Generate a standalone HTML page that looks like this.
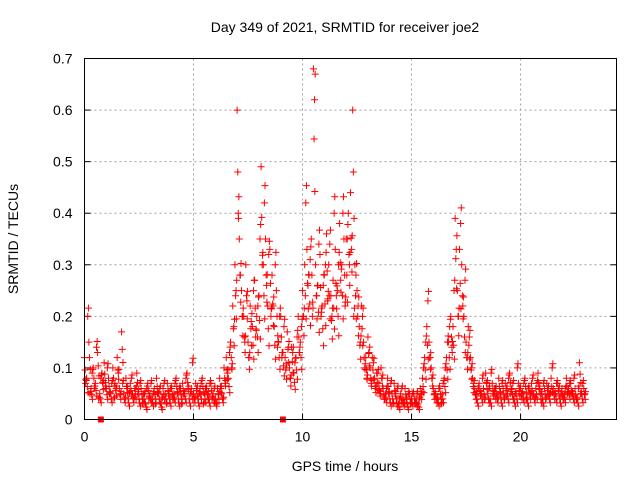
<!DOCTYPE html>
<html><head><meta charset="utf-8"><style>
body{margin:0;background:#fff;}
svg{display:block;font-family:"Liberation Sans",sans-serif;}
</style></head><body>
<svg id="chart" width="640" height="480" viewBox="0 0 640 480">
<rect width="640" height="480" fill="#fff"/>
<text x="345" y="32" font-size="14" text-anchor="middle">Day 349 of 2021, SRMTID for receiver joe2</text>
<text x="345" y="471" font-size="14" text-anchor="middle">GPS time / hours</text>
<text transform="translate(18,239) rotate(-90)" font-size="14" text-anchor="middle">SRMTID / TECUs</text>
<g id="grid"></g>
<g id="ticks"></g>
<g id="pts"></g>
<rect x="84.5" y="58.5" width="532" height="361" fill="none" stroke="#000" stroke-width="1"/>
</svg>
<script>
const xTicks=[0,5,10,15,20];
const yTicks=[0,0.1,0.2,0.3,0.4,0.5,0.6,0.7];
const yLabels=["0","0.1","0.2","0.3","0.4","0.5","0.6","0.7"];
const tStart=0, tStep=0.1;
const seriesA=[0.12,0.08,0.15,0.06,0.1,0.07,0.13,0.05,0.09,0.11,
0.06,0.08,0.05,0.1,0.07,0.12,0.06,0.17,0.05,0.08,
0.04,0.07,0.05,0.06,0.09,0.04,0.06,0.05,0.03,0.07,
0.05,0.04,0.06,0.08,0.05,0.03,0.06,0.05,0.07,0.04,
0.06,0.05,0.08,0.04,0.06,0.07,0.05,0.09,0.04,0.06,
0.05,0.07,0.04,0.06,0.08,0.05,0.06,0.04,0.07,0.05,
0.04,0.06,0.08,0.05,0.1,0.12,0.08,0.15,0.22,0.3,
0.6,0.35,0.25,0.2,0.3,0.15,0.22,0.18,0.27,0.2,
0.24,0.49,0.3,0.35,0.22,0.33,0.28,0.18,0.25,0.15,
0.2,0.13,0.12,0.17,0.1,0.14,0.09,0.12,0.2,0.15,
0.25,0.3,0.33,0.28,0.35,0.68,0.3,0.26,0.32,0.22,
0.28,0.36,0.3,0.24,0.27,0.33,0.25,0.38,0.3,0.35,
0.35,0.4,0.44,0.6,0.3,0.25,0.18,0.22,0.15,0.12,
0.16,0.1,0.12,0.08,0.09,0.07,0.1,0.06,0.05,0.08,
0.04,0.05,0.07,0.04,0.03,0.05,0.04,0.06,0.03,0.05,
0.04,0.05,0.04,0.03,0.06,0.08,0.12,0.18,0.15,0.1,
0.06,0.05,0.04,0.06,0.05,0.08,0.12,0.15,0.2,0.18,
0.39,0.25,0.33,0.3,0.2,0.15,0.18,0.12,0.08,0.06,
0.04,0.07,0.05,0.06,0.09,0.05,0.04,0.07,0.06,0.05,
0.08,0.04,0.06,0.07,0.05,0.09,0.06,0.04,0.05,0.07,
0.06,0.05,0.08,0.04,0.06,0.07,0.05,0.06,0.09,0.05,
0.04,0.06,0.07,0.05,0.08,0.06,0.05,0.07,0.04,0.06,
0.05,0.08,0.06,0.07,0.05,0.06,0.04,0.11,0.05,0.06];
const seriesB=[0.07,0.2,0.05,0.09,0.06,0.14,0.04,0.08,0.07,0.06,
0.1,0.05,0.07,0.04,0.06,0.09,0.05,0.07,0.04,0.06,
0.05,0.08,0.04,0.06,0.05,0.07,0.03,0.05,0.06,0.04,
0.07,0.05,0.03,0.05,0.06,0.04,0.07,0.03,0.05,0.06,
0.04,0.07,0.05,0.06,0.03,0.05,0.08,0.06,0.05,0.11,
0.04,0.06,0.05,0.07,0.03,0.06,0.05,0.07,0.04,0.06,
0.03,0.05,0.06,0.04,0.07,0.09,0.13,0.1,0.18,0.25,
0.4,0.28,0.2,0.15,0.23,0.12,0.19,0.25,0.16,0.22,
0.35,0.3,0.42,0.26,0.32,0.2,0.22,0.3,0.14,0.2,
0.12,0.18,0.1,0.14,0.08,0.13,0.11,0.16,0.13,0.18,
0.2,0.42,0.26,0.31,0.2,0.62,0.24,0.34,0.2,0.26,
0.3,0.23,0.34,0.2,0.4,0.24,0.3,0.27,0.4,0.22,
0.35,0.3,0.33,0.2,0.28,0.22,0.15,0.2,0.1,0.08,
0.13,0.07,0.11,0.06,0.09,0.05,0.08,0.04,0.06,0.05,
0.07,0.03,0.05,0.06,0.04,0.06,0.03,0.04,0.05,0.03,
0.05,0.03,0.05,0.04,0.05,0.1,0.15,0.23,0.12,0.08,
0.05,0.04,0.06,0.03,0.07,0.1,0.15,0.18,0.14,0.25,
0.33,0.2,0.38,0.22,0.27,0.12,0.16,0.1,0.07,0.05,
0.06,0.05,0.08,0.04,0.07,0.06,0.09,0.05,0.06,0.04,
0.05,0.07,0.04,0.06,0.08,0.05,0.07,0.05,0.1,0.06,
0.05,0.07,0.04,0.06,0.05,0.08,0.04,0.07,0.06,0.05,
0.07,0.04,0.06,0.05,0.1,0.05,0.07,0.06,0.05,0.04,
0.06,0.05,0.07,0.05,0.08,0.04,0.06,0.05,0.07,0.05];
const markerTimes=[0.75,9.1];
const NS="http://www.w3.org/2000/svg";
const X0=84.5,X1=616.5,Y0=419.5,Y1=58.5,XMAX=24.4,YMAX=0.7;
function sx(t){return X0+(X1-X0)*t/XMAX;}
function sy(v){return Y0-(Y0-Y1)*v/YMAX;}
function mk(tag,attrs,parent){const e=document.createElementNS(NS,tag);for(const k in attrs)e.setAttribute(k,attrs[k]);parent.appendChild(e);return e;}
const grid=document.getElementById('grid'),ticks=document.getElementById('ticks'),pts=document.getElementById('pts');
xTicks.forEach(t=>{const x=sx(t);
 if(t>0){const g=mk('line',{x1:x,x2:x,y1:Y1,y2:Y0,stroke:'#a0a0a0','stroke-dasharray':'2,3'},grid);
 
 }
 mk('line',{x1:x,x2:x,y1:Y0,y2:Y0-6,stroke:'#000'},ticks);
 const l=mk('text',{x:x,y:Y0+22,'font-size':14,'text-anchor':'middle'},ticks);l.textContent=t;
 
 });
yTicks.forEach((v,i)=>{const y=sy(v);
 if(v>0&&v<0.7){const g=mk('line',{x1:X0,x2:X1,y1:y,y2:y,stroke:'#a0a0a0','stroke-dasharray':'2,3'},grid);
 
 }
 mk('line',{x1:X0,x2:X0+6,y1:y,y2:y,stroke:'#000'},ticks);
 mk('line',{x1:X1,x2:X1-6,y1:y,y2:y,stroke:'#000'},ticks);
 const l=mk('text',{x:X0-12,y:y+5,'font-size':14,'text-anchor':'end'},ticks);l.textContent=yLabels[i];
 
 });
function plus(t,v,col){const x=sx(t),y=sy(Math.min(v,0.69));
 const p=mk('path',{d:`M${x-3.5},${y}h7M${x},${y-3.5}v7`,stroke:col,'stroke-width':1,fill:'none'},pts);
 
 }
seriesA.forEach((v,i)=>plus(tStart+i*tStep,v,'#f00'));
seriesB.forEach((v,i)=>plus(tStart+i*tStep+0.05,v,'#f00'));
seriesA.forEach((v,i)=>plus(tStart+i*tStep+0.03,v*0.8,'#f00'));
seriesB.forEach((v,i)=>plus(tStart+i*tStep+0.08,v*1.08,'#f00'));
seriesA.forEach((v,i)=>plus(tStart+i*tStep+0.065,v*0.65,'#f00'));
markerTimes.forEach(t=>{const r=mk('rect',{x:sx(t)-3,y:Y0-3,width:6,height:6,fill:'#f00'},pts);
 
 });
</script>
</body></html>
